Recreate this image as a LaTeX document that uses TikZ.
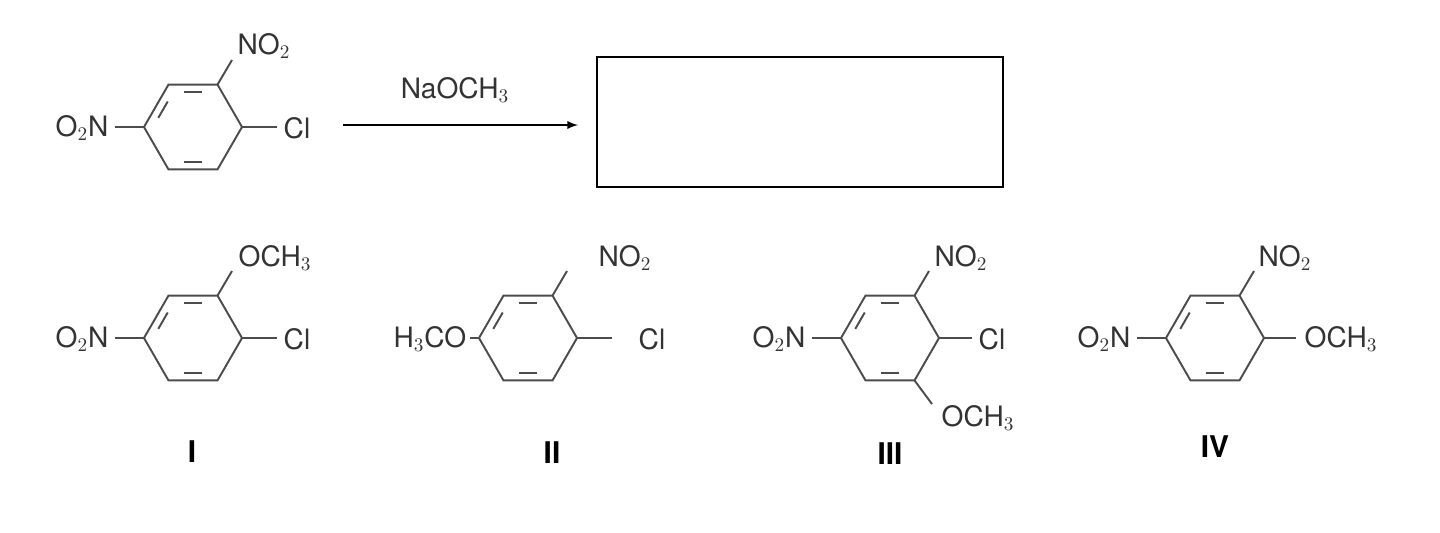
\documentclass[tikz,border=0pt]{standalone}
\usepackage{fontspec}
\setmainfont{TeX Gyre Heros}
\begin{document}
\begin{tikzpicture}[x=0.02cm,y=-0.02cm,
  bond/.style={draw=black!70,line width=1.1pt},
  lab/.style={font=\fontsize{16}{18}\selectfont,text=black!80,inner sep=0pt},
  num/.style={font=\fontsize{17}{19}\selectfont\bfseries,inner sep=0pt},
  benz/.pic={
    \draw[bond] (0:49) \foreach \a in {60,120,...,359}{ -- (\a:49)} -- cycle;
    \foreach \a in {60,180,240}{
      \draw[bond,shorten <=6pt,shorten >=6pt] (\a:40) -- (\a+60:40);}
  }]
\useasboundingbox (0,0) rectangle (1440,532);
% reactant
\pic at (193,127) {benz};
\draw[bond] (217.5,84.6) -- (232,60);
\node[lab] (r1) at (264,46) {NO$_2$};
\draw[bond] (242,127) -- (277,127);
\node[lab] (r2) at (297,128) {Cl};
\draw[bond] (144,127) -- (115,127);
\node[lab] (r3) at (82,128) {O$_2$N};
% arrow
\coordinate (a1) at (343,125); \coordinate (a2) at (578,125);
\draw[-latex,line width=1.1pt] (a1) -- (a2);
\node[lab] (na) at (455,90) {NaOCH$_3$};
\node[draw,line width=1.1pt,minimum width=8.12cm,minimum height=2.6cm] (box) at (800,122) {};
% I
\pic at (193,338) {benz};
\draw[bond] (217.5,295.6) -- (232,271);
\node[lab] at (275,258) {OCH$_3$};
\draw[bond] (242,338) -- (277,338);
\node[lab] at (297,339) {Cl};
\draw[bond] (144,338) -- (115,338);
\node[lab] at (82,339) {O$_2$N};
\node[num] at (192,452) {I};
% II
\pic at (528,338) {benz};
\draw[bond] (552.5,295.6) -- (567,271);
\node[lab] at (625,258) {NO$_2$};
\draw[bond] (577,338) -- (612,338);
\node[lab] at (652,339) {Cl};
\draw[bond] (479,338) -- (472,338);
\node[lab] at (430,339) {H$_3$CO};
\draw[bond] (479,338) -- (470,338);
\node[num] at (552,453) {II};
% III
\pic at (890,338) {benz};
\draw[bond] (914.5,295.6) -- (929,271);
\node[lab] at (961,258) {NO$_2$};
\draw[bond] (939,338) -- (972,338);
\node[lab] at (992,339) {Cl};
\draw[bond] (914.5,380.4) -- (932,404);
\node[lab] at (978,418) {OCH$_3$};
\draw[bond] (841,338) -- (812,338);
\node[lab] at (779,339) {O$_2$N};
\node[num] at (890,454) {III};
% IV
\pic at (1215,338) {benz};
\draw[bond] (1239.5,295.6) -- (1254,271);
\node[lab] at (1285,258) {NO$_2$};
\draw[bond] (1264,338) -- (1296,338);
\node[lab] at (1341,339) {OCH$_3$};
\draw[bond] (1166,338) -- (1137,338);
\node[lab] at (1104,339) {O$_2$N};
\node[num] at (1215,447) {IV};
\end{tikzpicture}
\end{document}
